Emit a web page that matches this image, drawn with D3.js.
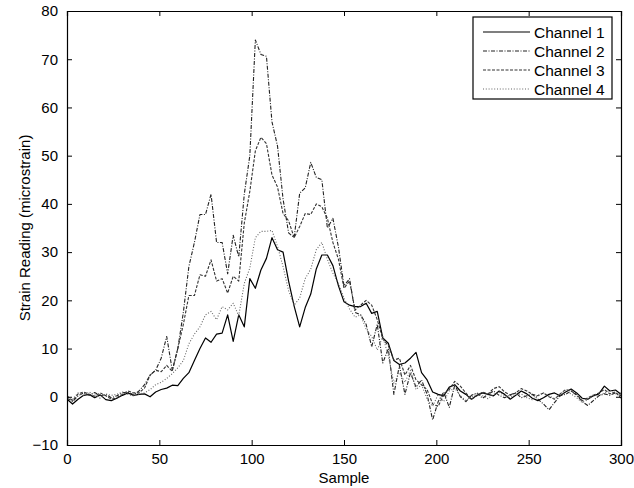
<!DOCTYPE html>
<html>
<head>
<meta charset="utf-8">
<script src="https://cdn.jsdelivr.net/npm/d3@7"></script>
<style>
  html, body { margin: 0; padding: 0; background: #fff; }
  svg { display: block; font-family: "Liberation Sans", Arial, Helvetica, sans-serif; }
</style>
</head>
<body>
<svg id="chart" width="634" height="488"></svg>
<script>
// ---- data (one value every 3 samples) ----
const samples = d3.range(0, 301, 3);
const channel1 = [
  -0.5,-1.5,-0.5,0.3,0.5,-0.2,0.4,-0.6,-0.8,-0.3,
  0.3,0.8,0.3,0.5,0.6,0,1.0,1.5,1.8,2.4,
  2.3,3.8,5.0,7.5,10,12.2,11.3,13,13.2,17,
  11.5,17,14.5,24.5,22.5,26.3,28.7,33,30.5,30,
  24,18.8,14.5,18.5,21.3,26.5,29.4,29.4,27.2,23,
  19.7,19,18.7,18.7,19.4,17.3,17.7,12.2,11.1,7.5,
  6.7,7,8,9.2,5,3.5,1,0.5,0.2,2,
  2.5,1.2,0.5,-0.5,0.3,0.8,0.5,0.2,1.2,0.5,
  -0.5,0.3,1.2,0.6,-0.3,-0.8,-0.2,0.5,0.8,0.2,
  1.0,1.6,0.8,-0.3,-0.5,0.2,0.6,2.2,1.2,1.4,
  0.5
];
const channel2 = [
  -0.3,-1,0.2,0.8,0.3,0.9,0.2,0.5,-0.2,0.2,
  0.8,1.0,0.4,1.2,2.5,4.5,5.5,8,12.5,5.5,
  10,17.5,27,32,37.8,37.8,42,32,32,25.5,
  33.5,29,42,50,74,71,70.6,57,52,41,
  34,33,42.2,43.3,48.6,45.5,45,35,37,31,
  23,24.5,17.5,17,15,10.4,15,7,10,0.5,
  6.5,0.5,5,2,3.5,0.5,-4.8,-1,1,-2.2,
  2.5,0,-1,0.3,0.8,-0.3,0.5,1.2,0.3,-0.2,
  0.4,0.8,-0.2,0.2,0.5,-0.5,-1.5,-2.7,-1.2,0.2,
  0.5,1.2,0.3,-1,-1.8,-0.8,0.2,0.6,0.3,0.8,
  0.2
];
const channel3 = [
  0.2,-0.8,0.6,1.0,0.5,0.1,0.8,0.2,-0.5,-0.2,
  0.5,1.2,0.8,0.8,1.8,4.5,5.5,5.2,6.5,5.3,
  10,15,21,21,25.3,25,28.4,24,24.5,21.5,
  25,24,36,42.6,51,53.8,52.5,46,43.5,38,
  36.5,33,35.3,38,37.8,40,39.4,37,32,28.5,
  22.5,24,18,19,20,19,16,12,10.6,7.6,
  8,4.5,6.5,3.5,2.5,1.5,-1.5,-2,0.5,1.5,
  3.2,2.2,0.8,-0.5,0.2,1.0,0.6,1.7,2.1,1.0,
  0.3,0.8,1.7,1.2,0.5,0.2,0.8,0,-0.5,0.6,
  1.5,1.2,0.5,-0.8,-0.2,0.3,0.8,1.5,0.6,1.0,
  -0.3
];
const channel4 = [
  0,-0.5,0.8,0.2,1.0,0.4,-0.3,0.6,0.3,0.5,
  1.0,0.5,0.2,0.6,0.8,1.5,2.5,3.0,3.8,4.8,
  6,7.5,11,13,14.5,17,17.7,16,18.7,18,
  19.4,16.8,23.5,26.7,33,34.3,34.3,34.5,31.2,27,
  22,19,20.5,24.5,26.5,30.5,32,28.5,25.6,23.5,
  20.5,18.2,16.5,17,14,12.5,9.7,12.5,8.5,2.8,
  5,3,5.5,1.5,2.5,-0.5,-2,0.5,-1,1.2,
  1.8,0.2,-0.8,0,0.6,0.2,-0.4,0.5,1.0,0.2,
  -0.2,0.5,0.6,-0.2,-0.6,0.3,0.8,0.2,-0.4,0.3,
  1.2,0.6,-0.2,-1.2,-0.6,0.4,0.2,0.8,1.4,0.6,
  0.8
];
const seriesNames = ["Channel 1", "Channel 2", "Channel 3", "Channel 4"];
const xTicks = [0, 50, 100, 150, 200, 250, 300];
const yTicks = [-10, 0, 10, 20, 30, 40, 50, 60, 70, 80];
const xLabel = "Sample";
const yLabel = "Strain Reading (microstrain)";

// ---- styles ----
const styles = [
  { stroke: "#000", dash: null, width: 1.2 },
  { stroke: "#222", dash: "4,1.5,1,1.5", width: 1.1 },
  { stroke: "#333", dash: "3,1.5", width: 1.1 },
  { stroke: "#666", dash: "1,1.8", width: 1.1 }
];

const svg = d3.select("#chart");
const m = { left: 67, right: 621, top: 11, bottom: 445 };
const x = d3.scaleLinear().domain([0, 300]).range([m.left, m.right]);
const y = d3.scaleLinear().domain([-10, 80]).range([m.bottom, m.top]);

const all = [channel1, channel2, channel3, channel4];
const line = d3.line().x(d => x(d[0])).y(d => y(d[1]));

svg.append("clipPath").attr("id", "clip").append("rect")
  .attr("x", m.left).attr("y", m.top).attr("width", m.right - m.left).attr("height", m.bottom - m.top);

const g = svg.append("g").attr("clip-path", "url(#clip)");
all.forEach((vals, i) => {
  const pts = samples.map((s, k) => [s, vals[k]]);
  g.append("path").datum(pts)
    .attr("fill", "none")
    .attr("stroke", styles[i].stroke)
    .attr("stroke-width", styles[i].width)
    .attr("stroke-dasharray", styles[i].dash)
    .attr("stroke-linejoin", "round")
    .attr("d", line);
});

// axes (ticks inward on all four sides)
const fmt = d => d < 0 ? "\u2212" + Math.abs(d) : String(d);
const tl = 5;
const axB = svg.append("g").attr("transform", `translate(0,${m.bottom})`)
  .call(d3.axisBottom(x).tickValues(xTicks).tickSize(-tl).tickPadding(8).tickFormat(fmt));
const axT = svg.append("g").attr("transform", `translate(0,${m.top})`)
  .call(d3.axisTop(x).tickValues(xTicks).tickSize(-tl).tickFormat(""));
const axL = svg.append("g").attr("transform", `translate(${m.left},0)`)
  .call(d3.axisLeft(y).tickValues(yTicks).tickSize(-tl).tickPadding(9).tickFormat(fmt));
const axR = svg.append("g").attr("transform", `translate(${m.right},0)`)
  .call(d3.axisRight(y).tickValues(yTicks).tickSize(-tl).tickFormat(""));
[axB, axT, axL, axR].forEach(a => {
  a.select(".domain").attr("stroke", "#000").attr("stroke-width", 1.2);
  a.selectAll(".tick line").attr("stroke", "#000").attr("stroke-width", 1);
  a.selectAll("text").attr("fill", "#000").style("font-size", "15px")
    .style("font-family", "'Liberation Sans', Arial, sans-serif");
});

svg.append("text").attr("x", (m.left + m.right) / 2).attr("y", 483)
  .attr("text-anchor", "middle").style("font-size", "15px").text(xLabel);
svg.append("text").attr("transform", `translate(30,${(m.top + m.bottom) / 2}) rotate(-90)`)
  .attr("text-anchor", "middle").style("font-size", "15px").text(yLabel);

// legend
const lg = svg.append("g");
lg.append("rect").attr("x", 473).attr("y", 17).attr("width", 139).attr("height", 82)
  .attr("fill", "#fff").attr("stroke", "#000").attr("stroke-width", 1.2);
seriesNames.forEach((n, i) => {
  const yy = 32 + i * 19;
  lg.append("line").attr("x1", 483).attr("x2", 530).attr("y1", yy).attr("y2", yy)
    .attr("stroke", styles[i].stroke).attr("stroke-width", styles[i].width)
    .attr("stroke-dasharray", styles[i].dash);
  lg.append("text").attr("x", 534).attr("y", yy + 5.5).style("font-size", "15.5px").text(n);
});
</script>
</body>
</html>
